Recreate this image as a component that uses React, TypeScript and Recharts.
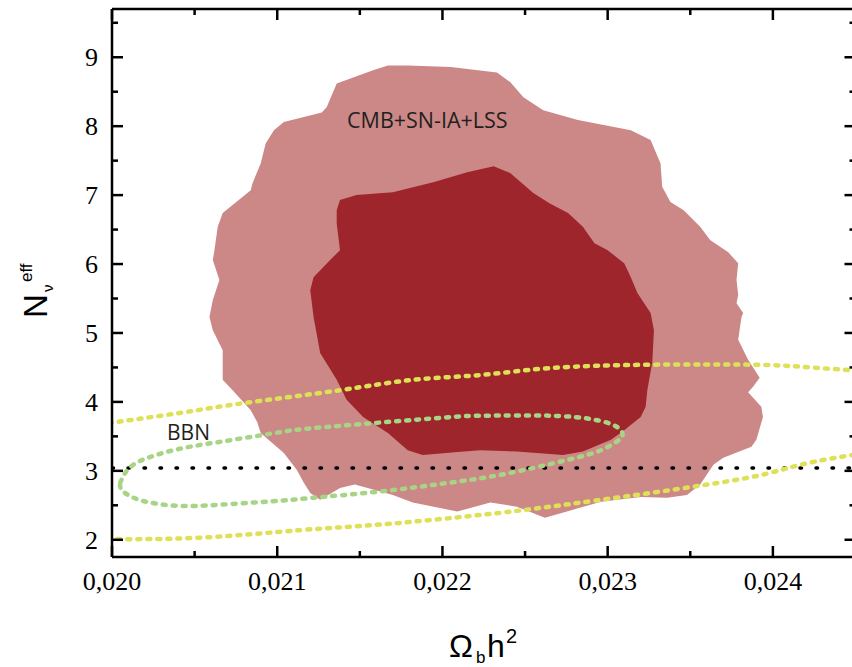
import { ComposedChart, Area, Line, XAxis, YAxis } from 'recharts';

type Pt = [number, number];

// CMB+SN-IA+LSS confidence regions (Omega_b h^2, N_eff)
const outerContour: Pt[] = [
  [0.02158, 8.81], [0.02167, 8.88], [0.02179, 8.88], [0.02205, 8.86], [0.02233, 8.78],
  [0.02241, 8.64], [0.02249, 8.42], [0.02261, 8.23], [0.02282, 8.09], [0.02314, 7.94],
  [0.02326, 7.8], [0.02332, 7.46], [0.02333, 7.12], [0.02338, 6.9], [0.02346, 6.78],
  [0.02356, 6.54], [0.02362, 6.35], [0.02373, 6.17], [0.02379, 6.01], [0.02378, 5.77],
  [0.02379, 5.55], [0.02378, 5.43], [0.02382, 5.29], [0.02381, 5.23], [0.02379, 4.9],
  [0.02385, 4.61], [0.02392, 4.35], [0.02388, 4.22], [0.02385, 4.14], [0.02393, 3.93],
  [0.02394, 3.78], [0.0239, 3.45], [0.02387, 3.35], [0.0237, 3.19], [0.02364, 3.09],
  [0.02356, 2.8], [0.02348, 2.65], [0.02336, 2.61], [0.0232, 2.62], [0.02296, 2.55],
  [0.02278, 2.43], [0.02262, 2.32], [0.02245, 2.48], [0.02229, 2.54], [0.02209, 2.41],
  [0.02182, 2.54], [0.0217, 2.65], [0.02147, 2.8], [0.02138, 2.75], [0.02126, 2.58],
  [0.0212, 2.68], [0.02116, 2.83], [0.02112, 3.01], [0.02104, 3.26], [0.0209, 3.55],
  [0.02088, 3.7], [0.02084, 3.88], [0.02073, 4.17], [0.02067, 4.32], [0.02067, 4.75],
  [0.02061, 5.04], [0.02059, 5.23], [0.02061, 5.48], [0.02065, 5.77], [0.02061, 6.06],
  [0.02062, 6.2], [0.02064, 6.54], [0.02067, 6.74], [0.02084, 7.07], [0.02085, 7.17],
  [0.0209, 7.46], [0.02093, 7.75], [0.02098, 7.94], [0.02104, 8.06], [0.02127, 8.2],
  [0.0213, 8.28], [0.02136, 8.62], [0.02158, 8.81],
];

const innerContour: Pt[] = [
  [0.02138, 6.93], [0.02148, 7.0], [0.0217, 7.04], [0.02195, 7.19], [0.02215, 7.33],
  [0.02231, 7.42], [0.02241, 7.32], [0.02255, 7.03], [0.02265, 6.88], [0.02276, 6.74],
  [0.02285, 6.54], [0.02292, 6.3], [0.023, 6.2], [0.0231, 6.01], [0.02314, 5.81],
  [0.02318, 5.58], [0.02326, 5.29], [0.02328, 5.04], [0.02327, 4.57], [0.02324, 4.17],
  [0.02323, 3.93], [0.0232, 3.78], [0.0231, 3.59], [0.02302, 3.45], [0.02285, 3.28],
  [0.02273, 3.23], [0.02245, 3.28], [0.02223, 3.3], [0.02213, 3.28], [0.02188, 3.23],
  [0.02179, 3.3], [0.02167, 3.55], [0.02152, 3.78], [0.02142, 4.03], [0.02136, 4.32],
  [0.02126, 4.71], [0.02122, 5.23], [0.0212, 5.62], [0.02122, 5.81], [0.02132, 6.06],
  [0.02138, 6.2], [0.02136, 6.59], [0.02136, 6.78], [0.02138, 6.93],
];

// BBN outer contour, two branches running off the plot
const bbnOuterUpper: Pt[] = [
  [0.01993, 3.68], [0.02, 3.7], [0.02041, 3.84], [0.02082, 3.99], [0.02138, 4.17],
  [0.02182, 4.32], [0.02223, 4.39], [0.02265, 4.49], [0.02326, 4.54], [0.02387, 4.54],
  [0.02417, 4.51], [0.02453, 4.45],
];

const bbnOuterLower: Pt[] = [
  [0.01993, 2.01], [0.02, 2.01], [0.02053, 2.03], [0.02114, 2.14], [0.02162, 2.22],
  [0.02223, 2.36], [0.02265, 2.48], [0.02326, 2.68], [0.02387, 2.91], [0.02417, 3.09],
  [0.02453, 3.25],
];

// BBN inner contour (closed)
const bbnInner: Pt[] = [
  [0.02005, 2.83], [0.02008, 2.97], [0.02013, 3.09], [0.02023, 3.2], [0.02043, 3.33],
  [0.02073, 3.45], [0.02104, 3.57], [0.02122, 3.62], [0.02162, 3.7], [0.02205, 3.78],
  [0.02225, 3.8], [0.02265, 3.8], [0.0229, 3.75], [0.02302, 3.68], [0.02308, 3.59],
  [0.02309, 3.52], [0.02307, 3.45], [0.02296, 3.3], [0.02276, 3.16], [0.02245, 2.99],
  [0.02225, 2.9], [0.02205, 2.83], [0.02162, 2.7], [0.02122, 2.61], [0.02104, 2.57],
  [0.02073, 2.52], [0.02043, 2.49], [0.02023, 2.54], [0.02013, 2.61], [0.02006, 2.72],
  [0.02005, 2.83],
];

// standard-model value, drawn across the whole x range
const standardNeff = 3.04;

const xMajorTicks = [0.02, 0.021, 0.022, 0.023, 0.024];
const xMinorTicks = [0.0205, 0.0215, 0.0225, 0.0235];
const yMajorTicks = [2, 3, 4, 5, 6, 7, 8, 9];
const yMinorTicks = [2.5, 3.5, 4.5, 5.5, 6.5, 7.5, 8.5, 9.5];

const xDomain: [number, number] = [0.02, 0.0245];
const yDomain: [number, number] = [1.75, 9.7];

const toRows = (pts: Pt[]) => pts.map(([x, y]) => ({ x, y }));
const isMajor = (v: number, list: number[]) => list.some((t) => Math.abs(t - v) < 1e-9);
const fmtX = (v: number) => v.toFixed(3).replace('.', ',');

const neffRows = xDomain.map((x) => ({ x, y: standardNeff }));

const INK = '#000';
const TICK_W = 2.5;
const MAJOR_LEN = 11;
const MINOR_LEN = 6;
const serif = '"Liberation Serif", "Times New Roman", serif';
const sans = '"Liberation Sans", Arial, sans-serif';
const labelSans = '"Open Sans", "Liberation Sans", sans-serif';

function BottomTick({ x, y, payload }: any) {
  const major = isMajor(payload.value, xMajorTicks);
  return (
    <g>
      <line x1={x} x2={x} y1={y} y2={y - (major ? MAJOR_LEN : MINOR_LEN)} stroke={INK} strokeWidth={TICK_W} />
      {major && (
        <text x={x} y={y + 33} textAnchor="middle" fontFamily={serif} fontSize={26} fill={INK}>
          {fmtX(payload.value)}
        </text>
      )}
    </g>
  );
}

function TopTick({ x, y, payload }: any) {
  const major = isMajor(payload.value, xMajorTicks);
  return <line x1={x} x2={x} y1={y} y2={y + (major ? MAJOR_LEN : MINOR_LEN)} stroke={INK} strokeWidth={TICK_W} />;
}

function LeftTick({ x, y, payload }: any) {
  const major = isMajor(payload.value, yMajorTicks);
  return (
    <g>
      <line x1={x} x2={x + (major ? MAJOR_LEN : MINOR_LEN)} y1={y} y2={y} stroke={INK} strokeWidth={TICK_W} />
      {major && (
        <text x={x - 14} y={y + 9} textAnchor="end" fontFamily={serif} fontSize={26} fill={INK}>
          {payload.value}
        </text>
      )}
    </g>
  );
}

function RightTick({ x, y, payload }: any) {
  const major = isMajor(payload.value, yMajorTicks);
  return <line x1={x} x2={x - (major ? MAJOR_LEN : MINOR_LEN)} y1={y} y2={y} stroke={INK} strokeWidth={TICK_W} />;
}

const axisLine = { stroke: INK, strokeWidth: TICK_W };
const xTicks = [...xMajorTicks, ...xMinorTicks];
const yTicks = [...yMajorTicks, ...yMinorTicks];

const dotted = {
  type: 'natural' as const,
  strokeWidth: 4.5,
  strokeDasharray: '3 7',
  strokeLinecap: 'round' as const,
  dot: false,
  activeDot: false,
  isAnimationActive: false,
};

export default function App() {
  return (
    <div
      style={{
        position: 'absolute',
        left: 0,
        top: 0,
        width: 852,
        height: 667,
        overflow: 'hidden',
        background: '#fff',
      }}
    >
      <ComposedChart width={870} height={667} margin={{ top: 8, right: 13.5, bottom: 109, left: 111 }}>
        <XAxis
          dataKey="x"
          type="number"
          domain={xDomain}
          allowDataOverflow
          ticks={xTicks}
          interval={0}
          height={1}
          tickSize={0}
          tickMargin={0}
          tickLine={false}
          axisLine={axisLine}
          tick={(p: any) => <BottomTick {...p} />}
        />
        <XAxis
          xAxisId="top"
          orientation="top"
          dataKey="x"
          type="number"
          domain={xDomain}
          allowDataOverflow
          ticks={xTicks}
          interval={0}
          height={1}
          tickSize={0}
          tickMargin={0}
          tickLine={false}
          axisLine={axisLine}
          tick={(p: any) => <TopTick {...p} />}
        />
        <YAxis
          type="number"
          domain={yDomain}
          allowDataOverflow
          ticks={yTicks}
          interval={0}
          width={1}
          tickSize={0}
          tickMargin={0}
          tickLine={false}
          axisLine={axisLine}
          tick={(p: any) => <LeftTick {...p} />}
        />
        <YAxis
          yAxisId="right"
          orientation="right"
          type="number"
          domain={yDomain}
          allowDataOverflow
          ticks={yTicks}
          interval={0}
          width={1}
          tickSize={0}
          tickMargin={0}
          tickLine={false}
          axisLine={axisLine}
          tick={(p: any) => <RightTick {...p} />}
        />

        <Area
          data={toRows(outerContour)}
          dataKey="y"
          type="linear"
          fill="#cc8886"
          fillOpacity={1}
          stroke="none"
          dot={false}
          activeDot={false}
          isAnimationActive={false}
        />
        <Area
          data={toRows(innerContour)}
          dataKey="y"
          type="linear"
          fill="#9d252b"
          fillOpacity={1}
          stroke="none"
          dot={false}
          activeDot={false}
          isAnimationActive={false}
        />

        <Line
          data={neffRows}
          dataKey="y"
          type="linear"
          stroke="#000"
          strokeWidth={3.5}
          strokeDasharray="1.5 14.5"
          strokeLinecap="round"
          dot={false}
          activeDot={false}
          isAnimationActive={false}
        />

        <Line data={toRows(bbnOuterUpper)} dataKey="y" stroke="#dee157" {...dotted} />
        <Line data={toRows(bbnOuterLower)} dataKey="y" stroke="#dee157" {...dotted} />
        <Line data={toRows(bbnInner)} dataKey="y" stroke="#a8d485" {...dotted} />
      </ComposedChart>

      <svg
        width={852}
        height={667}
        style={{ position: 'absolute', left: 0, top: 0, pointerEvents: 'none' }}
      >
        <text x={347} y={128} fontFamily={labelSans} fontSize={21.5} fill="#231f20">
          CMB+SN-IA+LSS
        </text>
        <text x={167} y={440} fontFamily={labelSans} fontSize={21} fill="#231f20">
          BBN
        </text>

        <text fontFamily={sans} fill={INK}>
          <tspan x={449} y={657} fontSize={32}>Ω</tspan>
          <tspan x={476} y={663} fontSize={17}>b</tspan>
          <tspan x={487} y={657} fontSize={32}>h</tspan>
          <tspan x={506} y={643} fontSize={20}>2</tspan>
        </text>

        <text transform="translate(47,318) rotate(-90)" fontFamily={sans} fill={INK}>
          <tspan x={0} y={0} fontSize={33}>N</tspan>
          <tspan x={26} y={6} fontSize={15}>ν</tspan>
          <tspan x={36} y={-15} fontSize={17}>eff</tspan>
        </text>
      </svg>
    </div>
  );
}
